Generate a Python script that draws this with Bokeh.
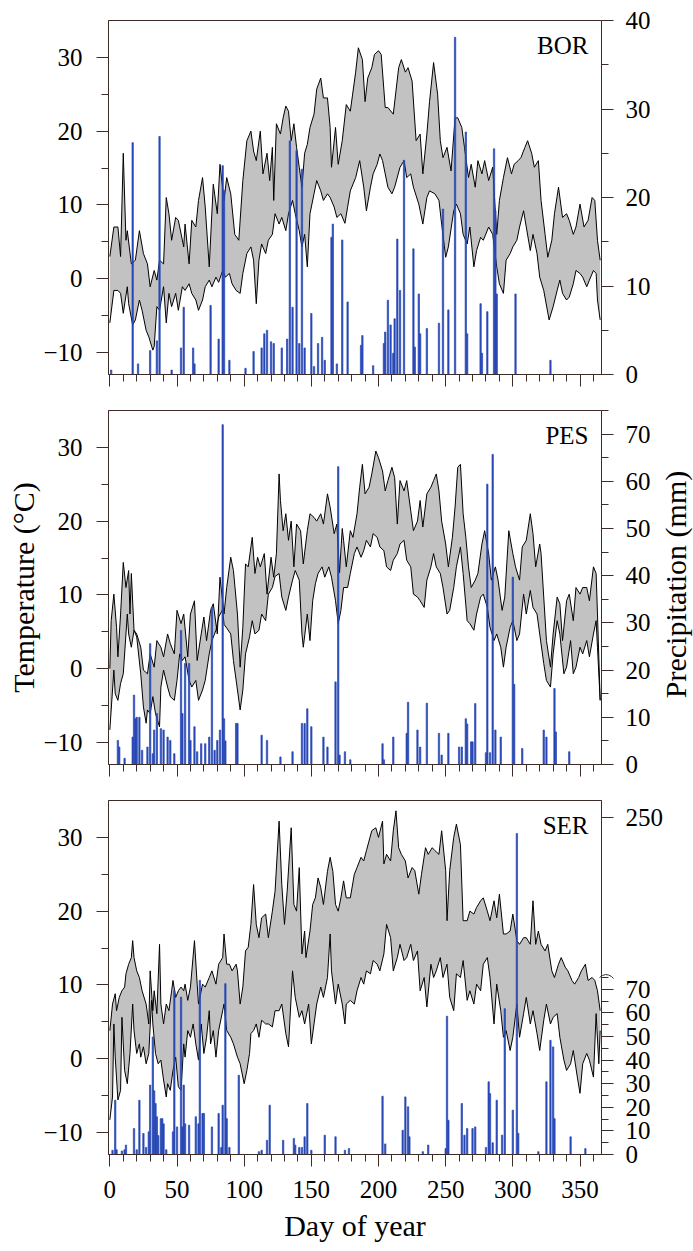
from bokeh.plotting import figure
from bokeh.layouts import column, row
from bokeh.models import Range1d, LinearAxis, FixedTicker, Label, CustomLabelingPolicy
from bokeh.core.properties import value
from bokeh.embed import file_html
from bokeh.resources import INLINE
import math

# ---------------- data (day of year, value) ----------------
bor_tmax = [(0,3),(3,7),(6,7),(8,3),(10,17),(12,5.2),(13,6.5),(16,2),(19,2.5),(22,6.5),(25,3.4),(28,2),(30,-1.1),(33,1.1),(35,-0.2),(37,2.5),(40,2),(42,11),(44,8.8),(46,5.2),(49,8.3),(51,7.9),(55,4.3),(56,7.4),(59,2),(61,7.9),(64,7),(66,10.6),(69,13.7),(71,9.7),(74,1.6),(77,12.8),(80,8.8),(82,15.5),(85,10.6),(87,13.7),(90,11.5),(93,6),(96,5.2),(99,13.3),(102,18.7),(105,20),(107,17.3),(109,16),(112,20),(114,14.2),(117,17),(119,13.3),(121,17.8),(122,10.6),(124,21),(127,19.6),(129,21.8),(131,23.4),(133,22.7),(135,18.7),(137,21),(139,17.8),(141,15.1),(143,12.4),(145,17),(147,18.2),(149,20.5),(152,22.3),(154,25.7),(157,27.2),(159,24.5),(162,24.5),(164,20.5),(165,15.1),(168,20.5),(170,15.5),(173,18.7),(176,23.6),(179,22.7),(183,28),(185,31.3),(188,29.7),(190,24),(192,27.2),(195,28.6),(197,30.4),(200,30.9),(202,30.4),(205,23.2),(207,23.2),(211,22.3),(215,28.6),(217,29.7),(220,28),(222,28.6),(225,26.8),(228,18.7),(231,19.6),(233,14.2),(236,19.6),(238,24),(241,29.3),(244,25),(246,18.7),(248,16.4),(251,17.8),(254,14.6),(257,21.8),(259,21.8),(262,20.5),(264,17.8),(267,13.7),(269,15.5),(272,12.4),(274,16),(277,14.2),(279,16),(282,13.3),(285,15.1),(288,6),(290,10.6),(293,13.7),(296,16.4),(299,14.2),(301,15.5),(304,16),(306,16.4),(309,17.8),(311,18.7),(314,17),(316,15.1),(319,16),(321,10.6),(324,6),(326,2.9),(329,5.2),(331,8.8),(334,12.4),(337,8.3),(340,8.8),(342,7.9),(345,6),(347,7),(350,10.1),(353,7),(356,7.9),(359,11),(361,10.6),(363,5.2),(365,2.5)]
bor_tmin = [(0,-6),(3,-1.6),(6,-1.6),(8,-2),(10,-4.7),(13,-1.1),(14,-3.4),(17,-6.3),(19,-5.6),(22,-2.9),(24,-4.3),(27,-7),(29,-7.9),(32,-9.7),(33,-9.2),(35,-3.8),(37,-4.3),(40,-1.1),(42,-6),(44,-2),(46,-3.8),(49,-2),(51,-4.3),(54,-1.1),(56,-1.6),(59,-0.7),(61,-2),(64,-2.9),(66,-4.3),(69,-2.9),(71,-1.1),(74,-0.2),(76,-1.1),(79,0.2),(81,-0.5),(84,1.1),(86,0.2),(89,0.7),(91,-0.7),(94,-1.6),(97,-2),(99,0.7),(102,3.4),(105,4.3),(107,2.5),(109,-3.4),(111,2.5),(113,4.7),(116,3.4),(118,5.2),(121,6),(123,8.8),(126,7.4),(128,8.3),(131,6.5),(133,8.8),(136,10.6),(138,8.8),(141,6.5),(143,4.3),(145,6),(147,1.6),(149,8.8),(152,11.5),(154,13.3),(157,11.9),(159,10.6),(162,11.5),(164,11),(167,9.7),(169,8.3),(172,8.8),(175,7.5),(177,9.7),(179,11.9),(183,13.7),(186,16),(189,12.4),(191,9.2),(194,12.4),(196,14.2),(199,15.5),(201,16.9),(203,16),(205,14.2),(207,12.4),(210,11.5),(212,12.4),(216,15.1),(219,16),(221,13.7),(224,14.2),(226,12.4),(230,10.1),(233,7.4),(236,11),(238,11.9),(242,11.5),(245,10.6),(247,7.4),(250,2.9),(252,4.3),(256,9.2),(258,10.1),(261,8.8),(263,6),(266,4.7),(268,7),(271,1.6),(273,3.8),(276,5.6),(278,5.2),(282,7),(285,6),(288,1.6),(290,-0.7),(293,-2),(295,2.5),(298,3.4),(300,4.3),(303,5.2),(305,7),(308,9.2),(310,7),(313,3.8),(315,6),(318,3.4),(320,0.2),(323,-1.6),(327,-5.6),(330,-3.8),(333,-1.6),(335,-0.2),(337,-2),(340,-2.9),(342,-2.5),(345,-0.7),(347,1.1),(350,0.7),(352,0.2),(355,-1.1),(357,-0.2),(360,1.1),(362,0.7),(363,-2.9),(365,-5.6)]
bor_prec = [(1,0.5),(17,26.2),(21,1.2),(30,2.7),(35,3.8),(37,26.9),(46,0.5),(53,3),(55,7.6),(62,3),(63,1.2),(75,7.8),(81,4),(84,23.6),(85,20.8),(89,1.6),(101,0.7),(107,2.6),(113,3),(115,4.6),(117,5),(120,3.7),(122,3.5),(128,3),(132,4),(134,26.4),(136,7.6),(139,25.3),(141,3.5),(143,23.2),(145,3),(150,6.9),(152,0.9),(155,3.5),(158,4.2),(160,1.6),(165,15.5),(166,17),(169,1.2),(173,15.2),(177,8.2),(187,3.3),(188,4.4),(196,1),(204,3.5),(205,4.8),(207,8.4),(209,5.6),(211,2.4),(212,6.3),(214,15.3),(216,9.5),(219,24.2),(226,14.2),(227,3.1),(230,9.1),(231,4.6),(236,5.2),(245,5.8),(248,18.7),(252,7.3),(257,38.1),(265,27.4),(266,4.6),(276,8),(277,2.4),(281,7.1),(286,25.5),(287,18.5),(288,9.1),(302,9.1),(328,1.6)]

pes_tmax = [(0,0),(1,6.5),(3,10.1),(5,5.6),(6,1.6),(8,7.4),(10,14.4),(12,11),(14,13.3),(15,7.4),(16,12.9),(18,5.2),(20,4.7),(23,2.9),(25,-0.2),(28,-0.7),(30,2),(33,0.2),(35,3.8),(38,2.9),(40,1.6),(43,4.7),(45,3.4),(48,2),(50,7.9),(53,6.1),(55,7.4),(58,1.6),(60,7.4),(63,9.2),(65,1.1),(68,4.7),(70,7),(72,3.8),(75,7.9),(77,8.8),(80,4.7),(82,12.4),(85,7.4),(87,11),(90,15.1),(92,13.3),(95,7.4),(97,0.2),(99,5.6),(101,14.2),(103,13.8),(106,17.8),(108,12.9),(110,15.1),(112,13.8),(115,15.6),(117,10.1),(120,15.1),(122,12.4),(124,15.6),(126,26.4),(127,22.8),(129,18.7),(131,21),(133,17.4),(135,20),(137,13.8),(139,19.6),(142,18.7),(144,14.2),(147,18.7),(149,21),(152,20.5),(154,20),(157,21),(159,19.6),(162,23.7),(164,21.9),(167,18.3),(169,19.6),(171,13),(173,19),(174,17.4),(176,13.8),(179,18.7),(181,17.8),(184,21),(186,24.6),(188,27.7),(190,23.7),(193,24.6),(195,26.4),(198,29.5),(200,28.6),(203,26.8),(205,24.1),(207,25.5),(210,27.3),(212,25.9),(214,19.6),(216,25.5),(219,24.1),(221,25.5),(224,21.4),(226,18.7),(229,20),(231,22.8),(233,19.2),(236,23.7),(239,24.6),(241,25.5),(243,26.4),(245,24.1),(247,20),(250,16.9),(252,13.8),(255,17.8),(257,21.9),(259,27.3),(261,27.7),(263,21),(265,17.8),(267,13.8),(269,11),(272,12),(274,12.9),(277,16.9),(279,18.7),(282,15.6),(284,12),(287,13.8),(289,12),(292,7.9),(294,9.7),(297,18.7),(300,15.6),(302,13.8),(305,12),(307,16.5),(310,17.4),(313,21),(315,18.3),(317,13.8),(320,16.9),(321,15.6),(323,9.7),(325,3.8),(328,0.2),(330,4.7),(333,9.7),(335,8.8),(337,3.8),(340,9.2),(342,10.1),(345,6.5),(347,11),(350,10.1),(352,11),(355,11),(357,9.2),(360,13.8),(362,12.9),(363,7.4),(365,-4.3)]
pes_tmin = [(0,-8.3),(3,-0.2),(4,-3.4),(6,-4.3),(8,-2),(10,-0.7),(13,7.4),(14,4.7),(16,2.9),(18,5.2),(20,4.3),(23,-0.7),(25,-5.2),(27,-7.4),(28,-5.6),(30,-6.1),(32,-3.8),(34,-6.1),(37,-7.9),(38,-2.5),(40,-0.2),(43,-2.5),(45,-3.8),(48,-4.3),(50,-1.6),(52,2),(54,1.1),(56,1.6),(59,-1.6),(61,-2.5),(64,-1.6),(66,-4.3),(69,-2.9),(71,-1.6),(74,2),(76,3.8),(79,5.2),(81,7),(84,8),(85,6),(87,5.5),(90,4.7),(92,1.1),(95,-2.9),(97,-5.6),(99,-2.9),(101,2),(104,4.3),(106,6.5),(108,4.7),(111,5.2),(113,7.4),(116,6.5),(118,10.1),(121,11),(123,12.5),(126,12.9),(128,9.7),(131,7.9),(133,9.7),(136,12),(138,13.3),(141,12),(143,4.7),(144,2.9),(147,7.4),(149,3.8),(151,9.2),(153,11.5),(155,12.9),(158,13.8),(160,12.4),(163,13.8),(165,12.4),(168,9.2),(170,6.1),(172,7.9),(174,11),(177,11),(179,12.9),(182,15.6),(184,16.5),(187,15.1),(189,16),(191,17.4),(194,16.5),(196,18.3),(199,17.8),(201,16.5),(204,16),(206,13.8),(209,13.3),(211,14.7),(214,15.6),(216,16.9),(219,17.4),(221,14.7),(224,13.8),(226,10.1),(229,9.7),(231,9.2),(234,8.3),(236,12),(239,13.8),(241,15.6),(243,13.8),(246,12.9),(248,11),(251,7.4),(253,7.9),(256,11),(258,13.8),(261,16.5),(263,12.9),(266,6.5),(268,6.1),(271,5.2),(273,7.4),(276,9.7),(278,10.1),(281,8.3),(283,5.6),(286,3.8),(288,4.7),(291,2.9),(293,0.2),(295,2.9),(298,5.6),(300,6.5),(303,3.8),(305,4.7),(308,10.1),(310,7.4),(313,10.6),(315,8.3),(318,7.4),(320,4.7),(323,0.7),(325,-1.6),(328,-2.5),(330,2),(333,6.5),(335,4.7),(338,-0.7),(340,0.2),(343,3.8),(345,-0.7),(347,0.2),(350,2.9),(352,2),(355,3.8),(357,1.6),(360,4.7),(362,6.5),(363,2.9),(365,-4.3)]
pes_prec = [(6,5.1),(7,3.7),(11,1.3),(17,5.8),(18,14.7),(19,9.7),(20,10),(22,10),(24,3),(28,3.7),(30,25.6),(32,2.3),(33,7.3),(35,10.8),(38,7.6),(40,7.3),(43,5.8),(45,5.1),(48,2.3),(53,28.4),(54,10.8),(56,21.4),(59,21.4),(60,5.1),(63,8),(65,2.7),(68,4.4),(71,4.4),(74,5.8),(76,33.3),(78,3),(80,5.1),(82,7.3),(84,72),(85,9.7),(86,5),(94,8.7),(95,8.7),(113,6.2),(117,5.1),(127,1.6),(136,2.7),(143,8.7),(145,8.7),(147,11.8),(150,8),(159,5.8),(162,3.7),(168,17.5),(170,63.1),(171,2),(175,2.7),(179,1),(203,4.4),(204,1),(211,5.8),(221,6.6),(222,13.2),(229,7.3),(231,3.7),(236,13),(245,6.6),(247,2),(252,6.6),(260,3.7),(262,3.7),(265,9.7),(266,8.6),(269,4.8),(270,4.8),(272,12.9),(280,2.5),(281,59.4),(283,2.5),(285,65.7),(287,7.3),(291,5.8),(300,39.7),(301,17),(307,3.4),(323,7.3),(325,5.8),(331,16.1),(332,6.9),(342,2.7)]

ser_tmax = [(0,3.8),(2,7.4),(4,8.8),(5,6.5),(7,8.3),(9,9.2),(11,9.7),(12,11.5),(14,12.8),(16,13.7),(17,16),(18,13.7),(20,11.9),(22,11),(24,9.2),(27,7.4),(29,4.7),(30,11.9),(32,6.5),(33,9.2),(35,6.1),(37,15.5),(38,7.4),(40,4.7),(42,7.4),(44,6.5),(46,9.2),(47,10.6),(49,8.3),(51,9.2),(53,9.7),(55,9.2),(56,10.1),(58,7.9),(60,9.7),(63,16),(65,10.1),(66,7.4),(69,10.1),(71,9.7),(74,11),(76,11.9),(79,10.1),(81,12.8),(84,13.7),(85,16.9),(87,12.8),(89,12.8),(91,11.9),(94,12.8),(95,11.9),(97,7.4),(99,9.7),(101,14.6),(103,15.1),(105,18.2),(107,23.6),(109,18.2),(111,16.4),(113,19.1),(116,19.6),(118,16.4),(121,20),(123,22.7),(126,32.2),(128,23.6),(130,18.2),(132,22.7),(135,31.3),(137,20.9),(139,20),(141,25.9),(143,14.2),(145,17.3),(146,13.7),(149,17.3),(151,20.9),(153,21.8),(155,24.5),(157,23.2),(159,20.9),(162,25.4),(164,27.3),(166,25.4),(168,20.9),(170,20),(172,21.8),(174,24.1),(176,21.8),(179,21.8),(182,25),(184,25.9),(187,27.3),(189,26.8),(191,28.2),(195,30.9),(198,31.3),(200,30),(203,32.2),(204,26.4),(206,27.7),(209,26.8),(211,30.9),(213,33.6),(215,28.6),(217,27.7),(220,26.8),(222,24.5),(225,25.9),(227,25.5),(230,22.3),(232,25),(235,28.6),(237,27.7),(240,28.6),(242,28.2),(245,27.7),(247,30.9),(250,25.5),(251,18.7),(253,25.5),(256,30),(258,31.8),(261,29),(263,18.7),(266,18.7),(268,20),(271,19.6),(273,20.5),(276,21.4),(278,21.8),(281,20),(283,18.7),(286,21.4),(288,19.1),(290,22.3),(293,16.9),(295,16.9),(298,17.3),(300,19.6),(303,16),(305,15.5),(308,16.4),(310,16.4),(313,15.5),(315,21.4),(317,15.5),(319,17.3),(321,15.5),(324,14.6),(326,15.5),(329,11.9),(331,11),(334,12.8),(336,13.7),(339,12.4),(341,11.9),(344,10.6),(346,10.1),(349,11),(351,11.9),(354,12.8),(356,10.6),(359,11),(361,10.6),(363,9.2),(365,6.5)]
ser_tmin = [(0,-8.3),(2,-5.2),(3,4.7),(4,0.2),(6,-5.6),(8,-4.3),(9,5.6),(11,-1.6),(13,-3.4),(15,0.7),(17,7.4),(18,3.8),(20,0.7),(22,2),(23,0.2),(25,1.6),(27,-0.7),(29,0.7),(31,7.9),(32,4.7),(34,0.7),(36,-0.7),(38,-0.2),(40,-2.9),(42,-5.2),(43,-3.4),(45,-4.3),(47,-1.6),(49,0.2),(51,-3.8),(53,-4.3),(55,2),(56,0.2),(58,3.8),(60,2.9),(62,4.7),(64,2),(66,-0.2),(68,4.7),(70,0.7),(72,2.9),(74,6.5),(75,2),(77,3.8),(79,0.2),(81,3.8),(84,6.5),(85,7.4),(87,3.8),(90,2.9),(92,2),(95,0.2),(97,-0.7),(100,-3.4),(102,-1.6),(104,0.7),(105,3.4),(107,3.8),(109,4.7),(111,2.9),(113,5.2),(116,4.7),(118,4.7),(121,4.3),(123,6.5),(126,6.5),(128,7.4),(131,3.4),(133,1.6),(136,11.9),(138,8.3),(141,5.6),(143,6.5),(145,4.7),(148,7.4),(150,2),(152,4.7),(154,7.4),(157,9.7),(159,8.3),(162,11),(164,16.9),(165,11.9),(168,7.4),(170,10.1),(173,7.4),(175,4.7),(176,7.4),(179,7.9),(182,7.4),(184,9.2),(187,11),(189,10.1),(191,11.9),(194,11.5),(196,13.3),(199,12.8),(201,11.9),(204,14.2),(206,18.2),(209,16.4),(211,11.9),(214,13.7),(216,15.5),(219,13.3),(221,13.7),(224,15.5),(226,13.3),(229,14.6),(231,9.2),(234,11),(236,7),(239,12.8),(241,11),(243,11.9),(246,13.7),(248,11),(251,12.8),(253,8.3),(256,6.5),(258,11.5),(261,11),(263,13.3),(266,7.9),(268,9.2),(271,7.4),(273,10.1),(276,9.2),(278,12.8),(281,13.7),(283,11),(286,4.7),(288,10.1),(291,6.5),(293,2.9),(295,3.8),(298,1.1),(300,2.9),(303,7.4),(305,2.9),(308,6.1),(310,8.3),(313,4.7),(315,6.5),(318,3.4),(320,1.1),(323,5.2),(325,7.4),(328,4.7),(330,5.6),(333,6.1),(335,2.9),(338,-0.2),(340,-1.6),(343,-0.7),(345,1.1),(348,-2.5),(350,-4.7),(352,-0.7),(355,0.7),(357,-0.2),(360,-2.5),(362,6.1),(364,-0.7),(365,3.8)]
ser_prec = [(2,1.8),(4,23),(5,2),(9,1.5),(11,2),(12,4),(18,11),(20,2),(22,23),(25,8.9),(27,3),(29,9.6),(30,29.4),(32,49.8),(33,27),(34,21.6),(35,16),(36,8),(38,15.2),(39,15.2),(40,13),(42,2),(47,9.6),(48,69.6),(50,11.7),(53,66.7),(54,11.7),(55,29.4),(56,13),(59,12.4),(64,16),(66,13),(67,73.8),(69,17.4),(70,17.4),(76,11.7),(81,17.4),(83,3),(84,20.9),(86,72.4),(87,15.2),(89,3),(96,33.6),(111,1.2),(113,1.8),(117,6),(119,20.9),(129,6),(137,6.8),(138,4),(141,3),(143,3),(145,7.5),(147,21.6),(150,1.8),(160,8.2),(168,7.5),(175,1.8),(178,2.5),(203,24.7),(205,4.5),(218,10.3),(220,24.4),(222,20.2),(223,7.5),(233,1.2),(237,4),(250,2.5),(251,58.6),(252,14.5),(262,21.6),(264,8.2),(266,11),(270,11),(272,11.7),(280,3),(282,30.8),(283,25.8),(285,5),(288,23),(292,8.2),(294,61.8),(300,18.8),(303,232),(304,9),(319,1.2),(325,30.8),(328,48.4),(330,45.6),(331,15.2),(343,7.5),(354,2.5)]

temp_ticks = [-10, 0, 10, 20, 30]
temp_minor = [-5, 5, 15, 25]
day_ticks = [0, 50, 100, 150, 200, 250, 300, 350]
day_minor = [d for d in range(0, 366, 10) if d % 50]
bor_pticks = [0, 10, 20, 30, 40]
pes_pticks = [0, 10, 20, 30, 40, 50, 60, 70]
ser_pticks_low = [0, 10, 20, 30, 40, 50, 60, 70]
ser_ptick_high = 250
ser_break = 75               # mm where the right axis of SER is broken
ser_upper_ratio = 68 / 175   # compression of the axis above the break
ser_prange = 150

FONT = "Liberation Serif"
AXC = "#3e2c28"
BLUE = "#2848b4"
GRAY = "#c2c2c2"
SIDE_W = 100
FRAME_H = 354


def ser_scale(v):
    return v if v <= ser_break else ser_break + (v - ser_break) * ser_upper_ratio


def style_axis(ax, standoff=12, size="25px"):
    ax.axis_line_color = AXC
    ax.axis_line_width = 1
    ax.major_tick_line_color = AXC
    ax.minor_tick_line_color = AXC
    ax.major_tick_out = 12
    ax.major_tick_in = 0
    ax.minor_tick_out = 7
    ax.minor_tick_in = 0
    ax.major_label_text_font = FONT
    ax.major_label_text_font_size = size
    ax.major_label_text_color = "black"
    ax.major_label_standoff = standoff


def style_title(ax, standoff):
    ax.axis_label_text_font = FONT
    ax.axis_label_text_font_size = "30px"
    ax.axis_label_text_font_style = "normal"
    ax.axis_label_text_color = "black"
    ax.axis_label_standoff = standoff


def panel(name, tmax, tmin, prec, prange, pticks, pminor, overrides, height, top, bottom, last, scale=None):
    p = figure(width=693, height=height, x_range=Range1d(-1, 366), y_range=Range1d(-13, 35),
               output_backend="svg", toolbar_location=None,
               min_border_left=108, min_border_right=92,
               min_border_top=top, min_border_bottom=bottom)
    p.grid.visible = False
    p.outline_line_color = AXC
    p.outline_line_width = 1
    p.background_fill_color = "white"
    p.border_fill_color = "white"
    p.extra_y_ranges = {"precip": Range1d(0, prange)}

    xd = [d for d, _ in tmax]
    xv = [v for _, v in tmax]
    nd = [d for d, _ in tmin]
    nv = [v for _, v in tmin]
    p.patch(xd + nd[::-1], xv + nv[::-1], fill_color=GRAY, line_color=None)
    p.line(xd, xv, line_color="black", line_width=1)
    p.line(nd, nv, line_color="black", line_width=1)

    pd = [d for d, _ in prec]
    pv = [v for _, v in prec]
    if scale is not None:
        pv = [scale(v) for v in pv]
    p.vbar(x=pd, top=pv, bottom=0, width=1.0, y_range_name="precip",
           fill_color=BLUE, line_color=BLUE, line_width=0.7)

    lax = p.yaxis[0]
    lax.ticker = FixedTicker(ticks=temp_ticks, minor_ticks=temp_minor)
    style_axis(lax, standoff=14)
    bax = p.xaxis[0]
    bax.ticker = FixedTicker(ticks=day_ticks, minor_ticks=day_minor)
    if last:
        style_axis(bax, standoff=14)
        bax.axis_label = "Day of year"
        style_title(bax, 8)
    else:
        style_axis(bax, standoff=0, size="1px")
        bax.major_label_policy = CustomLabelingPolicy(code="return []")

    rax = LinearAxis(y_range_name="precip", ticker=FixedTicker(ticks=pticks, minor_ticks=pminor))
    style_axis(rax, standoff=12)
    if overrides:
        rax.major_label_overrides = overrides
    p.add_layout(rax, "right")

    p.add_layout(Label(x=480, y=343, x_units="screen", y_units="screen", text=name,
                       text_align="right", text_baseline="top", text_font=FONT,
                       text_font_size="25px", text_color="black"))
    return p, lax, rax


p1, _, _ = panel("BOR", bor_tmax, bor_tmin, bor_prec, 40, bor_pticks, [5, 15, 25, 35], None, 392, 20, 18, False)
p2, p2_left, p2_right = panel("PES", pes_tmax, pes_tmin, pes_prec, 75, pes_pticks,
                              [5, 15, 25, 35, 45, 55, 65, 75], None, 390, 18, 18, False)
ser_top = ser_scale(ser_ptick_high)
p3, _, _ = panel("SER", ser_tmax, ser_tmin, ser_prec, ser_prange, ser_pticks_low + [ser_top],
                 [5, 15, 25, 35, 45, 55, 65, 75], {ser_top: str(ser_ptick_high)}, 469, 18, 97, True,
                 scale=ser_scale)

p2_left.axis_label = "Temperature (°C)"
style_title(p2_left, 0)

# transparent strip laid over the right edge: right-hand title (reads bottom to top)
# and the small break mark on the SER precipitation axis
x0 = 693 - SIDE_W
side = figure(width=SIDE_W, height=1251, x_range=Range1d(0, SIDE_W), y_range=Range1d(0, 1251),
              output_backend="svg", toolbar_location=None, min_border=0,
              x_axis_type=None, y_axis_type=None, margin=(0, 0, 0, -SIDE_W))
side.grid.visible = False
side.outline_line_color = None
side.background_fill_alpha = 0
side.border_fill_alpha = 0
side.text(x=[675 - x0], y=[1251 - 584], text=["Precipitation (mm)"], angle=math.pi / 2,
          text_align="center", text_baseline="middle", text_font=value(FONT),
          text_font_size="30px", text_color="black")

ser_frame_bottom = 1251 - 97
break_y = 1251 - (ser_frame_bottom - ser_break * FRAME_H / ser_prange)
wiggle_dx = [-2, 1, 4, 7, 10, 12]
wiggle_dy = [0, 2, 3, 2.5, 1, -1]
side.line([601 - x0 + dx for dx in wiggle_dx], [break_y + dy for dy in wiggle_dy],
          line_color=AXC, line_width=1)

layout = row(column(p1, p2, p3, spacing=0), side, spacing=0)
open("out.html", "w").write(file_html(layout, INLINE))
